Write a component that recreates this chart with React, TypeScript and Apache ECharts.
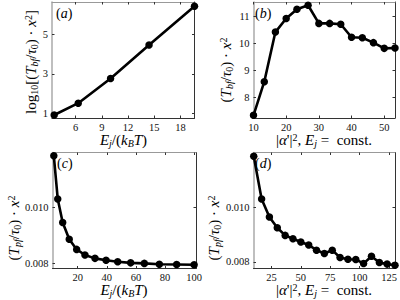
import React, { useEffect, useRef } from "react";
import * as echarts from "echarts";

// ---- data ----
const aX = [3.55, 6.3, 10.0, 14.4, 19.6];
const aY = [0.91, 1.51, 2.76, 4.46, 6.43];

const bX = [10, 13.3, 16.7, 20, 23.3, 26.7, 30, 33.3, 36.7, 40, 43.3, 46.7, 50, 53.3];
const bY = [7.34, 8.58, 10.41, 10.91, 11.25, 11.4, 10.73, 10.73, 10.7, 10.22, 10.2, 10.02, 9.81, 9.82];

const cX = [3.6, 6.3, 9.7, 14.2, 19.3, 25, 31.9, 39.5, 47.5, 56.4, 65.8, 76.1, 88, 100];
const cY = [0.01184, 0.0103, 0.00946, 0.00886, 0.0085, 0.0083, 0.00818, 0.00811, 0.00806, 0.00802, 0.008, 0.00797, 0.00796, 0.00795];

const dX = [10, 16.7, 23.3, 30, 36.7, 43.3, 50, 56.7, 63.3, 70, 76.7, 83.3, 90, 96.7, 103.3, 110, 116.7, 123.3, 130];
const dY = [0.01186, 0.0103, 0.00964, 0.00925, 0.00897, 0.00885, 0.00873, 0.00862, 0.00843, 0.00831, 0.00843, 0.00816, 0.0081, 0.00809, 0.00794, 0.00821, 0.00798, 0.00792, 0.00788];

const aXTicks = [6, 9, 12, 15, 18];
const aYTicks = [1, 3, 5];
const bXTicks = [10, 20, 30, 40, 50];
const bYTicks = [8, 9, 10, 11];
const cXTicks = [20, 40, 60, 80, 100];
const cYTicks = [0.008, 0.01];
const dXTicks = [25, 50, 75, 100, 125];
const dYTicks = [0.008, 0.01];

const FONT = "'Liberation Serif', 'DejaVu Serif', serif";

const panels = [
  { x: aX, y: aY, xt: aXTicks, yt: aYTicks, xr: [3.3, 19.6], yr: [0.76, 6.64], grid: { left: 52, top: 2, width: 142.5, height: 116 }, dec: 0 },
  { x: bX, y: bY, xt: bXTicks, yt: bYTicks, xr: [10, 53.3], yr: [7.24, 11.52], grid: { left: 253.5, top: 2, width: 141.5, height: 116 }, dec: 0 },
  { x: cX, y: cY, xt: cXTicks, yt: cYTicks, xr: [2.7, 101.3], yr: [0.007818, 0.01196], grid: { left: 52.5, top: 152.5, width: 143.5, height: 116 }, dec: 3 },
  { x: dX, y: dY, xt: dXTicks, yt: dYTicks, xr: [9.8, 130], yr: [0.00776, 0.0120], grid: { left: 253.5, top: 152.5, width: 142, height: 116 }, dec: 3 },
];

const LS = 15;
const rich: any = {
  r: { fontFamily: FONT, fontSize: LS, lineHeight: 16, fill: "#000" },
  i: { fontFamily: FONT, fontSize: LS, fontStyle: "italic", lineHeight: 16, fill: "#000" },
  sub: { fontFamily: FONT, fontSize: 10, lineHeight: 6, verticalAlign: "bottom", fill: "#000" },
  subi: { fontFamily: FONT, fontSize: 10, fontStyle: "italic", lineHeight: 6, verticalAlign: "bottom", fill: "#000" },
  sup: { fontFamily: FONT, fontSize: 10, lineHeight: 6, verticalAlign: "top", fill: "#000" },
};

const xLabelE = "{i|E}{subi|j}{r|/(}{i|k}{subi|B}{i|T}{r|)}";
const xLabelA = "{r||}{i|α}{r|'|}{sup|2}{r|, }{i|E}{subi|j}{r| =  const.}";
const yLabelA = "{r|log}{sub|10}{r|[(}{i|T}{subi|bf}{r|/}{i|τ}{sub|0}{r|) · }{i|x}{sup|2}{r|]}";
const yLabelB = "{r|(}{i|T}{subi|bf}{r|/}{i|τ}{sub|0}{r|) · }{i|x}{sup|2}";
const yLabelP = "{r|(}{i|T}{subi|pf}{r|/}{i|τ}{sub|0}{r|) · }{i|x}{sup|2}";

const titles = [
  { text: xLabelE, x: 123.5, y: 140, rot: 0 },
  { text: xLabelA, x: 324, y: 140, rot: 0 },
  { text: xLabelE, x: 124, y: 290, rot: 0 },
  { text: xLabelA, x: 324, y: 290, rot: 0 },
  { text: yLabelA, x: 31, y: 62, rot: 90 },
  { text: yLabelB, x: 226, y: 70, rot: 90 },
  { text: yLabelP, x: 14, y: 228, rot: 90 },
  { text: yLabelP, x: 214, y: 228, rot: 90 },
];

const panelTags = [
  { t: "a", x: 56, y: 13 },
  { t: "b", x: 255, y: 13 },
  { t: "c", x: 57, y: 163 },
  { t: "d", x: 255, y: 163 },
];

export default function App() {
  const ref = useRef<HTMLDivElement>(null);
  useEffect(() => {
    if (!ref.current) return;
    const chart = echarts.init(ref.current, undefined, { renderer: "svg" });
    const tickLabel = { fontFamily: FONT, fontSize: 10.5, lineHeight: 8, color: "#111" };
    const xAxis: any[] = [];
    const yAxis: any[] = [];
    const series: any[] = [];
    panels.forEach((p, i) => {
      xAxis.push({
        type: "value", gridIndex: i, position: "bottom", min: p.xr[0], max: p.xr[1],
        axisLine: { show: true, lineStyle: { color: "#333", width: 1 } },
        axisTick: { show: true, inside: true, length: 2.5, customValues: p.xt, lineStyle: { color: "#333" } },
        axisLabel: { show: true, customValues: p.xt, margin: 5, ...tickLabel },
        splitLine: { show: false },
      });
      xAxis.push({
        type: "value", gridIndex: i, position: "top", min: p.xr[0], max: p.xr[1],
        axisLine: { show: true, lineStyle: { color: "#999", width: 1 } },
        axisTick: { show: true, inside: true, length: 2.5, customValues: p.xt, lineStyle: { color: "#333" } },
        axisLabel: { show: false },
        splitLine: { show: false },
      });
      yAxis.push({
        type: "value", gridIndex: i, position: "left", min: p.yr[0], max: p.yr[1],
        axisLine: { show: true, lineStyle: { color: "#aaa", width: 1.5 } },
        axisTick: { show: true, inside: true, length: 2.5, customValues: p.yt, lineStyle: { color: "#333" } },
        axisLabel: { show: true, customValues: p.yt, margin: 4, formatter: (v: number) => v.toFixed(p.dec), ...tickLabel },
        splitLine: { show: false },
      });
      yAxis.push({
        type: "value", gridIndex: i, position: "right", min: p.yr[0], max: p.yr[1],
        axisLine: { show: true, lineStyle: { color: "#333", width: 1 } },
        axisTick: { show: true, inside: true, length: 2.5, customValues: p.yt, lineStyle: { color: "#333" } },
        axisLabel: { show: false },
        splitLine: { show: false },
      });
      series.push({
        type: "line", xAxisIndex: 2 * i, yAxisIndex: 2 * i,
        data: p.x.map((xv, k) => [xv, p.y[k]]),
        symbol: "circle", symbolSize: 7.5, showAllSymbol: true, clip: false,
        lineStyle: { color: "#000", width: 2.6 },
        itemStyle: { color: "#000" },
      });
    });
    const graphic: any[] = [];
    titles.forEach((t) => {
      graphic.push({
        type: "text", x: t.x, y: t.y, rotation: (t.rot * Math.PI) / 180,
        style: { text: t.text, rich, align: "center", verticalAlign: "middle", fontFamily: FONT, fontSize: LS, fill: "#000" },
      });
    });
    panelTags.forEach((t) => {
      graphic.push({
        type: "text", x: t.x, y: t.y,
        style: { text: `{r|(}{i|${t.t}}{r|)}`, rich: { r: { fontFamily: FONT, fontSize: 14, fill: "#000" }, i: { fontFamily: FONT, fontSize: 14, fontStyle: "italic", fill: "#000" } }, align: "left", verticalAlign: "middle" },
      });
    });
    chart.setOption({
      animation: false,
      backgroundColor: "#fff",
      grid: panels.map((p) => ({ ...p.grid, containLabel: false })),
      xAxis, yAxis, series, graphic,
    });
    return () => chart.dispose();
  }, []);
  return <div ref={ref} style={{ position: "fixed", left: 0, top: 0, width: 400, height: 300, background: "#fff" }} />;
}
